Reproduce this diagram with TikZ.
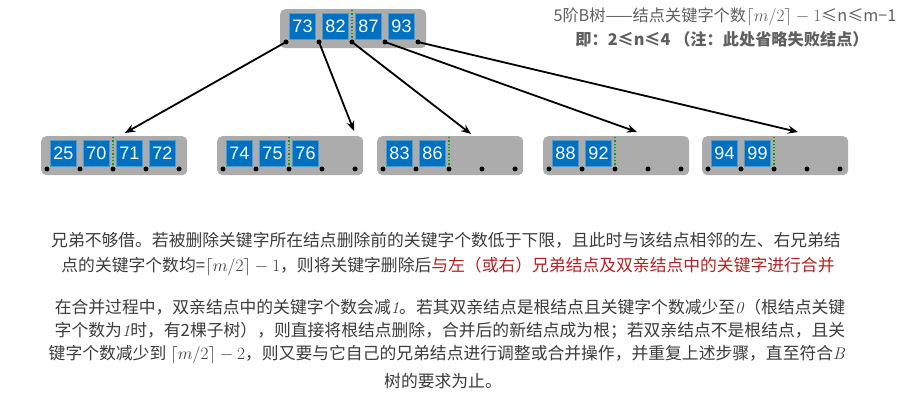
\documentclass[tikz,border=0pt]{standalone}
\usepackage{fontspec}
\newfontfamily\cjk{Noto Sans CJK SC}
\newfontfamily\keyfont{Liberation Sans}
\usetikzlibrary{arrows.meta,calc}
\definecolor{keyblue}{RGB}{0,112,192}
\definecolor{boxgray}{RGB}{172,172,172}
\definecolor{ptrgreen}{RGB}{20,150,20}
\definecolor{txt}{RGB}{60,60,60}
\definecolor{ttl}{RGB}{95,95,95}
\definecolor{hl}{RGB}{178,34,34}
\tikzset{
  gbox/.style={fill=boxgray, rounded corners=5pt, minimum width=146pt, minimum height=39pt, inner sep=0pt, draw=none},
  keybox/.style={fill=keyblue, draw=keyblue!70!white, line width=0.4pt, minimum width=26pt, minimum height=26pt, inner sep=0pt, text=white, font=\keyfont\fontsize{18}{18}\selectfont},
  ptrdot/.style={circle, fill=black, minimum size=5pt, inner sep=0pt},
  ptrline/.style={ptrgreen, dotted, line width=1.3pt},
  arr/.style={line width=1.8pt, -{Stealth[length=10pt,width=8pt]}},
  para/.style={text=txt, font=\cjk\fontsize{16.8}{20}\selectfont, inner sep=0pt},
  ttltext/.style={text=ttl, font=\cjk\fontsize{16.2}{19}\selectfont, inner sep=0pt}
}
\newcommand\btnode[4]{%
  \node[gbox, anchor=north west] (#1) at (#2,#3) {};
  \foreach \i in {0,...,4} { \node[ptrdot] (#1p\i) at (#2+6+33*\i, #3+33) {}; }
  \foreach \k [count=\j from 0] in {#4} { \node[keybox] (#1k\j) at (#2+22.5+33*\j, #3+17) {\k}; }
  \coordinate (#1g) at (#2+72, #3+1);
  \draw[ptrline] (#1g) -- (#1p2);
}
\begin{document}
\begin{tikzpicture}[x=1pt,y=-1pt]
\useasboundingbox (0,0) rectangle (916,414);
\fill[white] (0,0) rectangle (916,414);

\btnode{R}{280}{9}{73,82,87,93}
\btnode{A}{41}{136}{25,70,71,72}
\btnode{B}{217}{136}{74,75,76}
\btnode{C}{377}{136}{83,86}
\btnode{D}{543}{136}{88,92}
\btnode{E}{702}{136}{94,99}

\coordinate (tA) at (125,133);
\coordinate (tB) at (354,131);
\coordinate (tC) at (471,134);
\coordinate (tD) at (637,132);
\coordinate (tE) at (798,132);
\draw[arr] (Rp0.center) -- (tA);
\draw[arr] (Rp1.center) -- (tB);
\draw[arr] (Rp2.center) -- (tC);
\draw[arr] (Rp3.center) -- (tD);
\draw[arr] (Rp4.center) -- (tE);

\node[ttltext] (t1) at (725,17) {5阶B树——结点关键字个数$\lceil m/2\rceil - 1$≤n≤m−1};
\node[ttltext, font=\cjk\bfseries\fontsize{16.2}{19}\selectfont] (t2) at (722,39) {即：2≤n≤4 （注：此处省略失败结点）};

\node[para] (p1) at (446,240) {兄弟不够借。若被删除关键字所在结点删除前的关键字个数低于下限，且此时与该结点相邻的左、右兄弟结};
\node[para] (p2) at (448,266) {点的关键字个数均=$\lceil m/2\rceil - 1$，则将关键字删除后\textcolor{hl}{与左（或右）兄弟结点及双亲结点中的关键字进行合并}};

\node[para] (q1) at (450,307) {在合并过程中，双亲结点中的关键字个数会减\textrm{\itshape 1}。若其双亲结点是根结点且关键字个数减少至\textrm{\itshape 0}（根结点关键};
\node[para] (q2) at (450,331) {字个数为\textrm{\itshape 1}时，有2棵子树），则直接将根结点删除，合并后的新结点成为根；若双亲结点不是根结点，且关};
\node[para] (q3) at (447,355) {键字个数减少到 $\lceil m/2\rceil - 2$，则又要与它自己的兄弟结点进行调整或合并操作，并重复上述步骤，直至符合\textrm{\itshape B}};
\node[para] (q4) at (443,381) {树的要求为止。};
\end{tikzpicture}
\end{document}
